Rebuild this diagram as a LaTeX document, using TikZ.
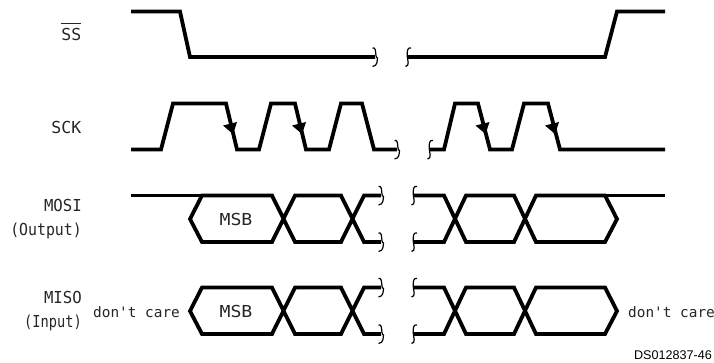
\documentclass[tikz,border=0pt]{standalone}
\usepackage{fontspec}
\setmainfont{DejaVu Sans}
\newfontfamily\monof{DejaVu Sans Mono}
\newfontfamily\monoa[FakeStretch=0.95]{DejaVu Sans Mono}
\newfontfamily\monob[FakeStretch=0.9]{DejaVu Sans Mono}
\newfontfamily\monoc[FakeStretch=0.83]{DejaVu Sans Mono}
\newfontfamily\monod[FakeStretch=1.1]{DejaVu Sans Mono}
\newfontfamily\dsf{Liberation Sans}
\tikzset{
  x=1pt,y=-1pt,
  sig/.style={line width=3.8pt,line join=miter,line cap=butt,black},
  brk/.style={line width=1.2pt,black},
  lab/.style={inner sep=0pt,font=\monof\fontsize{16.5}{24}\selectfont,align=right,text=black!85},
  labb/.style={inner sep=0pt,font=\monof\fontsize{14.4}{17}\selectfont,text=black!85},
  labm/.style={inner sep=0pt,font=\monod\fontsize{16.5}{20}\selectfont,text=black!85},
  sqa/.pic={\draw[brk] (-2.5,-9) .. controls (0.5,-10) and (0.5,-6) .. (0.8,-3) .. controls (1,1) and (2.5,1) .. (2.5,1) .. controls (2,3) and (3,9) .. (-2.5,9.5);},
  sqb/.pic={\draw[brk] (3,-9) .. controls (-0.5,-10) and (-1,-6) .. (-0.8,-1) .. controls (-0.5,3) and (2,9) .. (-2.5,9.5);},
}
\begin{document}
\begin{tikzpicture}
\useasboundingbox (0,0) rectangle (714,362);
\fill[white] (0,0) rectangle (714,362);
% SS
\coordinate (b1) at (375,57); \coordinate (b2) at (408,57);
\draw[sig] (131,11.5) -- (180,11.5) -- (190,57) -- (b1);
\draw[sig] (b2) -- (605,57) -- (617,11.5) -- (665,11.5);
\pic at (b1) {sqa}; \pic at (b2) {sqb};
% SCK
\coordinate (b3) at (397,149.5); \coordinate (b4) at (430,149.5);
\draw[sig] (131,149.5) -- (161,149.5) -- (173,103.5) -- (226,103.5) -- (237,149.5) -- (259,149.5) -- (271,103.5) -- (295,103.5) -- (306,149.5) -- (329,149.5) -- (341,103.5) -- (362,103.5) -- (374,149.5) -- (b3);
\draw[sig] (b4) -- (444,149.5) -- (455,103.5) -- (478,103.5) -- (490,149.5) -- (512,149.5) -- (524,103.5) -- (548,103.5) -- (560,149.5) -- (665,149.5);
\pic at (b3) {sqa}; \pic at (b4) {sqb};
\foreach \x in {0,69,252.5,322}{
  \fill (223+\x,125.5) -- (237+\x,122) -- (233+\x,134) -- cycle;
}
% MOSI
\coordinate (b5) at (381,195.5); \coordinate (b6) at (381,242);
\coordinate (b7) at (414,195.5); \coordinate (b8) at (414,242);
\draw[sig] (131,195.5) -- (202,195.5);
\draw[sig] (605,195.5) -- (665,195.5);
\draw[sig] (b6) -- (364,242) -- (341,195.5) -- (295,195.5) -- (272,242) -- (202,242) -- (190,219) -- (202,195.5) -- (272,195.5) -- (295,242) -- (341,242) -- (364,195.5) -- (b5);
\draw[sig] (b7) -- (444,195.5) -- (466,242) -- (514,242) -- (536,195.5) -- (605,195.5) -- (617,219) -- (605,242) -- (536,242) -- (514,195.5) -- (466,195.5) -- (444,242) -- (b8);
\pic at (b5) {sqa}; \pic at (b6) {sqa}; \pic at (b7) {sqb}; \pic at (b8) {sqb};
% MISO
\coordinate (b9) at (381,287.5); \coordinate (b10) at (381,334);
\coordinate (b11) at (414,287.5); \coordinate (b12) at (414,334);
\draw[sig] (b10) -- (364,334) -- (341,287.5) -- (295,287.5) -- (272,334) -- (202,334) -- (190,311) -- (202,287.5) -- (272,287.5) -- (295,334) -- (341,334) -- (364,287.5) -- (b9);
\draw[sig] (b11) -- (444,287.5) -- (466,334) -- (514,334) -- (536,287.5) -- (605,287.5) -- (617,311) -- (605,334) -- (536,334) -- (514,287.5) -- (466,287.5) -- (444,334) -- (b12);
\pic at (b9) {sqa}; \pic at (b10) {sqa}; \pic at (b11) {sqb}; \pic at (b12) {sqb};
% labels
\node[lab,anchor=east] (ss) at (81.5,34.5) {SS};
\draw[line width=0.9pt,black!85] (60.5,23.5) -- (81,23.5);
\node[lab,anchor=east] (sck) at (81.5,127) {SCK};
\node[lab,anchor=east] (mosi) at (82,219.5) {{\monoa MOSI}\\{\monob (Output)}};
\node[lab,anchor=east] (miso) at (82,311) {{\monoa MISO}\\{\monoc (Input)}};
\node[labm] (msb1) at (236,219) {MSB};
\node[labm] (msb2) at (236,311) {MSB};
\node[labb,anchor=west] (dc1) at (93,312) {don't care};
\node[labb,anchor=west] (dc2) at (628,312) {don't care};
\node[inner sep=0pt,anchor=east,font=\dsf\fontsize{12.6}{14}\selectfont] (ds) at (712,355) {DS012837-46};
\end{tikzpicture}
\end{document}
